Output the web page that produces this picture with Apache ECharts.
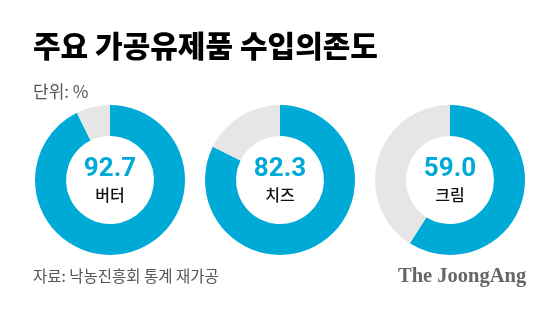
<!DOCTYPE html>
<html><head><meta charset="utf-8">
<script src="https://cdn.jsdelivr.net/npm/echarts@6/dist/echarts.min.js"></script>
<style>html,body{margin:0;padding:0;background:#fff}#c{width:560px;height:310px}</style>
</head><body><div id="c"></div>
<script>
const categories = ['버터', '치즈', '크림'];
const shares = [92.7, 82.3, 59.0];
const titleText = '주요 가공유제품 수입의존도';
const unitText = '단위: %';
const sourceText = '자료: 낙농진흥회 통계 재가공';
const logoText = 'The JoongAng';

const BLUE = '#00AAD7', GREY = '#E6E6E6';
const centersX = [110, 280, 450];
const KR = '"Noto Sans CJK KR", "Noto Sans", sans-serif';

const series = categories.map((name, i) => ({
  type: 'pie',
  center: [centersX[i], 180],
  radius: [44, 75],
  startAngle: 90,
  clockwise: true,
  silent: true,
  animation: false,
  emphasis: { disabled: true },
  labelLine: { show: false },
  data: [
    { value: shares[i], name: name, itemStyle: { color: BLUE },
      label: { show: true, position: 'center',
        formatter: p => '{v|' + p.value.toFixed(1) + '}\n{n|' + p.name + '}',
        rich: {
          v: { fontSize: 26, fontWeight: 'bold', color: BLUE, fontFamily: 'Roboto, sans-serif', lineHeight: 30 },
          n: { fontSize: 16, fontWeight: 500, color: '#111', fontFamily: KR, lineHeight: 22 }
        } } },
    { value: +(100 - shares[i]).toFixed(1), name: '', itemStyle: { color: GREY }, label: { show: false } }
  ]
}));

const chart = echarts.init(document.getElementById('c'), null, { renderer: 'canvas' });
chart.setOption({
  backgroundColor: '#fff',
  animation: false,
  graphic: [
    { type: 'text', left: 33, top: 31, style: { text: titleText, font: '900 30px ' + KR, fill: '#000' } },
    { type: 'text', left: 33, top: 83, style: { text: unitText, font: '17px ' + KR, fill: '#555' } },
    { type: 'text', left: 33, top: 268, style: { text: sourceText, font: '15.5px ' + KR, fill: '#555' } },
    { type: 'text', left: 398, top: 266, style: { text: logoText, font: 'bold 20.5px "Liberation Serif", "DejaVu Serif", serif', fill: '#666' } }
  ],
  series: series
});
</script></body></html>
